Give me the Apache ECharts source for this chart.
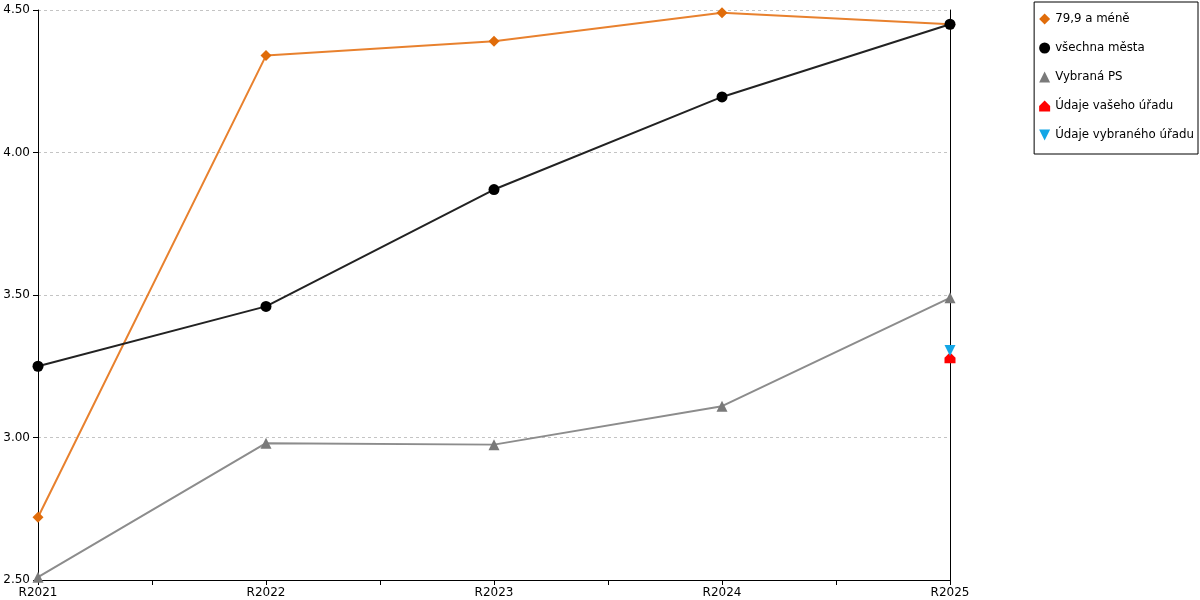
<!DOCTYPE html>
<html lang="cs">
<head>
    <meta charset="UTF-8">
    <title>Graf</title>
    <script src="https://cdn.jsdelivr.net/npm/echarts@6/dist/echarts.min.js"></script>
    <style>
        html, body { margin: 0; padding: 0; background: #fff; }
        #chartmain { width: 1200px; height: 600px; }
    </style>
</head>
<body>
<div id="chartmain"></div>
<script type="text/javascript">
    // kategorie na ose x
    var roky = ['R2021', 'R2022', 'R2023', 'R2024', 'R2025'];
    // hodnoty serii
    var mene799 = [2.72, 4.34, 4.39, 4.49, 4.45];
    var vsechnaMesta = [3.25, 3.46, 3.87, 4.195, 4.45];
    var vybranaPS = [2.51, 2.98, 2.975, 3.11, 3.49];
    var vasUrad = [null, null, null, null, 3.28];
    var vybranyUrad = [null, null, null, null, 3.305];

    var domek = 'path://M0,5 L5,0 L10,5 L10,10 L0,10 Z';
    var dolu = 'path://M0,0 L10,0 L5,10 Z';

    // ze pole hodnot udela body [index, hodnota]
    function body(arr) {
        var out = [];
        for (var i = 0; i < arr.length; i++) {
            if (arr[i] !== null) out.push([i, arr[i]]);
        }
        return out;
    }

    var font = 'DejaVu Sans, Verdana, sans-serif';
    var myChart = echarts.init(document.getElementById('chartmain'));
    var option = {
        animation: false,
        textStyle: { fontFamily: font },
        grid: { left: 38, right: 250, top: 10, bottom: 20 },
        legend: {
            orient: 'vertical',
            right: 2,
            top: 2,
            padding: [11, 4, 13, 5],
            itemGap: 17,
            itemWidth: 11,
            itemHeight: 11,
            borderColor: '#000',
            borderWidth: 1,
            textStyle: { fontFamily: font, fontSize: 11.8, color: '#000' },
            data: [
                { name: '79,9 a méně', icon: 'diamond' },
                { name: 'všechna města', icon: 'circle' },
                { name: 'Vybraná PS', icon: 'triangle' },
                { name: 'Údaje vašeho úřadu', icon: domek },
                { name: 'Údaje vybraného úřadu', icon: dolu }
            ]
        },
        xAxis: {
            type: 'value',
            min: 0,
            max: roky.length - 1,
            interval: 0.5,
            axisLine: { show: true, lineStyle: { color: '#000' } },
            axisTick: { show: true, length: 5, lineStyle: { color: '#000' } },
            splitLine: { show: false },
            axisLabel: {
                color: '#000',
                fontSize: 12,
                margin: 7,
                showMinLabel: true,
                showMaxLabel: true,
                formatter: function (v) {
                    return Number.isInteger(v) ? roky[v] : '';
                }
            }
        },
        yAxis: [{
            type: 'value',
            min: 2.5,
            max: 4.5,
            interval: 0.5,
            axisLine: { show: true, lineStyle: { color: '#000' } },
            axisTick: { show: true, length: 5, lineStyle: { color: '#000' } },
            splitLine: { show: true, lineStyle: { color: '#c4c4c4', type: [3, 3] } },
            axisLabel: {
                color: '#000',
                fontSize: 12,
                margin: 8,
                formatter: function (v) { return v.toFixed(2); }
            }
        }, {
            type: 'value',
            position: 'right',
            min: 2.5,
            max: 4.5,
            interval: 0.5,
            axisLine: { show: true, lineStyle: { color: '#000' } },
            axisTick: { show: false },
            axisLabel: { show: false },
            splitLine: { show: false }
        }],
        series: [{
            name: '79,9 a méně',
            type: 'line',
            data: body(mene799),
            symbol: 'diamond',
            symbolSize: 11,
            itemStyle: { color: '#e06c0a' },
            lineStyle: { color: '#e8812e', width: 2 }
        }, {
            name: 'všechna města',
            type: 'line',
            data: body(vsechnaMesta),
            symbol: 'circle',
            symbolSize: 11,
            itemStyle: { color: '#000' },
            lineStyle: { color: '#222', width: 2 }
        }, {
            name: 'Vybraná PS',
            type: 'line',
            data: body(vybranaPS),
            symbol: 'triangle',
            symbolSize: 11,
            itemStyle: { color: '#7a7a7a' },
            lineStyle: { color: '#8c8c8c', width: 2 }
        }, {
            name: 'Údaje vašeho úřadu',
            type: 'line',
            data: body(vasUrad),
            symbol: domek,
            symbolSize: 11,
            itemStyle: { color: '#ff0000' },
            lineStyle: { width: 0 }
        }, {
            name: 'Údaje vybraného úřadu',
            type: 'line',
            data: body(vybranyUrad),
            symbol: dolu,
            symbolSize: 11,
            itemStyle: { color: '#13a6e6' },
            lineStyle: { width: 0 }
        }]
    };
    myChart.setOption(option);
</script>
</body>
</html>
